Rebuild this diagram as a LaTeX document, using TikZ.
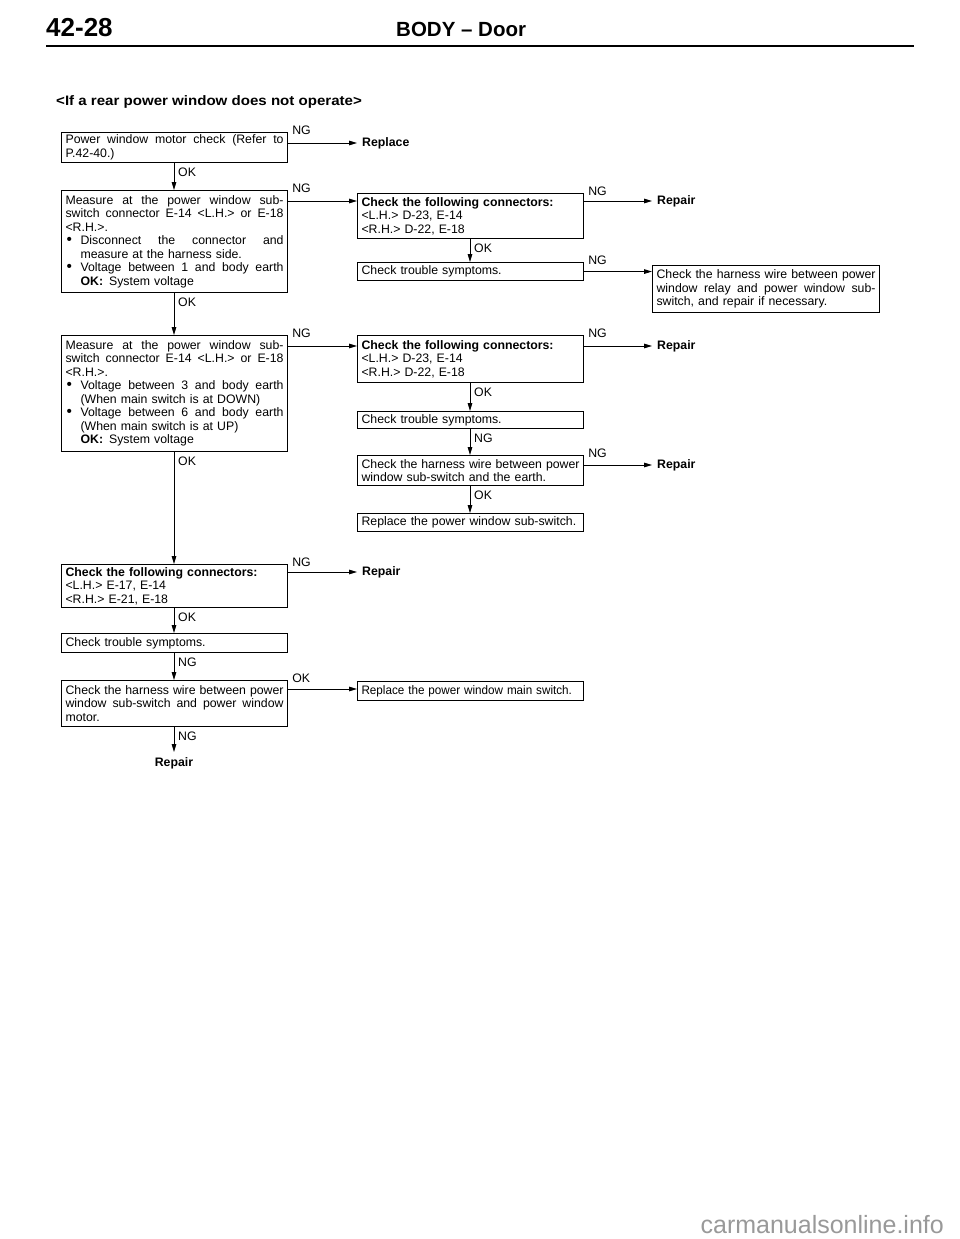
\documentclass[tikz,border=0pt]{standalone}
\usepackage{fontspec}
\usepackage{graphicx}
\setmainfont{Liberation Sans}
\usetikzlibrary{arrows.meta}
\newlength\Ind \setlength\Ind{15pt}
\newcommand\J[1]{\makebox[\hsize][s]{\spaceskip=0pt\xspaceskip=0pt #1}}
\newcommand\Bul{\makebox[\Ind][l]{\hspace{1pt}\scalebox{1.25}{\textbullet}}}
\newcommand\Bj[1]{\Bul\makebox[\dimexpr\hsize-\Ind\relax][s]{\spaceskip=0pt\xspaceskip=0pt #1}}
\newcommand\I[1]{\hspace*{\Ind}#1}
\newcommand\bodyfont{\fontsize{12.3}{13.5}\selectfont}
\tikzset{
  box/.style={draw, line width=1.1pt, anchor=north west, inner xsep=4pt, inner ysep=0pt,
    text width=218pt, align=left, font=\bodyfont,
    execute at begin node={\setlength\parindent{0pt}}},
  lbl/.style={font=\bodyfont, inner sep=0pt},
  outtxt/.style={font=\bodyfont\bfseries, inner sep=0pt},
  arr/.style={line width=0.9pt, -{Triangle[length=8pt,width=4.6pt]}},
}
\begin{document}
\begin{tikzpicture}[x=1pt,y=-1pt]
\useasboundingbox (0,0) rectangle (960,1239);
\fill[white] (0,0) rectangle (960,1239);
% header
\node[font=\fontsize{26}{30}\selectfont\bfseries, inner sep=0pt, anchor=base west] (pg) at (46,37) {42-28};
\node[font=\fontsize{20.5}{24}\selectfont\bfseries, inner sep=0pt, anchor=base west] (ttl) at (396,37) {BODY – Door};
\draw[line width=2.8pt] (46,46) -- (914,46);
\node[font=\fontsize{13.7}{16}\selectfont\bfseries, inner sep=0pt, anchor=base west] (sub) at (56,105) {\scalebox{1.1}[1]{<If a rear power window does not operate>}};
% column coordinates
\coordinate (lx) at (174,0);
\coordinate (mx) at (470,0);
% boxes
\node[box, minimum height=30pt] (b1) at (61,132) {\J{Power window motor check (Refer to}\\P.42-40.)};
\node[box, minimum height=102pt] (b2) at (61,190) {\J{Measure at the power window sub-}\\
\J{switch connector E-14 <L.H.> or E-18}\\
<R.H.>.\\
\Bj{Disconnect the connector and}\\
\I{measure at the harness side.}\\
\Bj{Voltage between 1 and body earth}\\
\I{\textbf{OK:}\hspace{6pt}System voltage}};
\node[box, minimum height=45pt] (b3) at (357,193) {\textbf{Check the following connectors:}\\<L.H.> D-23, E-14\\<R.H.> D-22, E-18};
\node[box, minimum height=18pt] (b4) at (357,262) {Check trouble symptoms.};
\node[box, minimum height=47pt, text width=219pt] (b5) at (652,265) {\J{Check the harness wire between power}\\\J{window relay and power window sub-}\\switch, and repair if necessary.};
\node[box, minimum height=116pt] (b6) at (61,335) {\J{Measure at the power window sub-}\\
\J{switch connector E-14 <L.H.> or E-18}\\
<R.H.>.\\
\Bj{Voltage between 3 and body earth}\\
\I{(When main switch is at DOWN)}\\
\Bj{Voltage between 6 and body earth}\\
\I{(When main switch is at UP)}\\
\I{\textbf{OK:}\hspace{6pt}System voltage}};
\node[box, minimum height=47pt] (b7) at (357,335) {\textbf{Check the following connectors:}\\<L.H.> D-23, E-14\\<R.H.> D-22, E-18};
\node[box, minimum height=17pt] (b8) at (357,411) {Check trouble symptoms.};
\node[box, minimum height=30pt] (b9) at (357,455) {\J{Check the harness wire between power}\\window sub-switch and the earth.};
\node[box, minimum height=18pt] (b10) at (357,513) {Replace the power window sub-switch.};
\node[box, minimum height=43pt] (b11) at (61,564) {\textbf{Check the following connectors:}\\<L.H.> E-17, E-14\\<R.H.> E-21, E-18};
\node[box, minimum height=19pt] (b12) at (61,633) {Check trouble symptoms.};
\node[box, minimum height=46pt] (b13) at (61,680) {\J{Check the harness wire between power}\\\J{window sub-switch and power window}\\motor.};
\node[box, minimum height=19pt] (b14) at (357,681) {\scalebox{0.95}[1]{Replace the power window main switch.}};
% outcome texts
\node[outtxt, anchor=west] (rep) at (362,143) {Replace};
\node[outtxt, anchor=west] (r1) at (657,201) {Repair};
\node[outtxt, anchor=west] (r2) at (657,346) {Repair};
\node[outtxt, anchor=west] (r3) at (657,465) {Repair};
\node[outtxt, anchor=west] (r4) at (362,572) {Repair};
\node[outtxt, anchor=north] (r5) at (174,757) {Repair};
% horizontal connectors
\coordinate (h1) at ([yshift=-11pt]b1.north east);
\coordinate (h2) at ([yshift=-11pt]b2.north east);
\coordinate (h3) at ([yshift=-8pt]b3.north east);
\coordinate (h4) at (b4.east);
\coordinate (h6) at ([yshift=-11pt]b6.north east);
\coordinate (h7) at ([yshift=-11pt]b7.north east);
\coordinate (h9) at ([yshift=-10pt]b9.north east);
\coordinate (h11) at ([yshift=-8pt]b11.north east);
\coordinate (h13) at ([yshift=-9pt]b13.north east);
\draw[arr] (h1) -- ([xshift=-5pt]rep.west);
\draw[arr] (h2) -- (h2 -| b3.west);
\draw[arr] (h3) -- ([xshift=-5pt]r1.west);
\draw[arr] (h4) -- (h4 -| b5.west);
\draw[arr] (h6) -- (h6 -| b7.west);
\draw[arr] (h7) -- ([xshift=-5pt]r2.west);
\draw[arr] (h9) -- ([xshift=-5pt]r3.west);
\draw[arr] (h11) -- ([xshift=-5pt]r4.west);
\draw[arr] (h13) -- (h13 -| b14.west);
% horizontal labels
\node[lbl, anchor=south west] (l1) at ([xshift=4pt,yshift=-2.5pt]b1.north east) {NG};
\node[lbl, anchor=south west] (l2) at ([xshift=4pt,yshift=-2.5pt]b2.north east) {NG};
\node[lbl, anchor=south west] (l3) at ([xshift=4pt,yshift=-2.5pt]b3.north east) {NG};
\node[lbl, anchor=south west] (l4) at ([xshift=4pt,yshift=-2.5pt]b4.north east) {NG};
\node[lbl, anchor=south west] (l6) at ([xshift=4pt,yshift=-2.5pt]b6.north east) {NG};
\node[lbl, anchor=south west] (l7) at ([xshift=4pt,yshift=-2.5pt]b7.north east) {NG};
\node[lbl, anchor=south west] (l9) at ([xshift=4pt,yshift=-2.5pt]b9.north east) {NG};
\node[lbl, anchor=south west] (l11) at ([xshift=4pt,yshift=-2.5pt]b11.north east) {NG};
\node[lbl, anchor=south west] (l13) at ([xshift=4pt,yshift=-2.5pt]b13.north east) {OK};
% vertical connectors
\coordinate (v1) at (b1.south -| lx);
\coordinate (v2) at (b2.south -| lx);
\coordinate (v3) at (b3.south -| mx);
\coordinate (v6) at (b6.south -| lx);
\coordinate (v7) at (b7.south -| mx);
\coordinate (v8) at (b8.south -| mx);
\coordinate (v9) at (b9.south -| mx);
\coordinate (v11) at (b11.south -| lx);
\coordinate (v12) at (b12.south -| lx);
\coordinate (v13) at (b13.south -| lx);
\draw[arr] (v1) -- (b2.north -| lx);
\draw[arr] (v2) -- (b6.north -| lx);
\draw[arr] (v3) -- (b4.north -| mx);
\draw[arr] (v6) -- (b11.north -| lx);
\draw[arr] (v7) -- (b8.north -| mx);
\draw[arr] (v8) -- (b9.north -| mx);
\draw[arr] (v9) -- (b10.north -| mx);
\draw[arr] (v11) -- (b12.north -| lx);
\draw[arr] (v12) -- (b13.north -| lx);
\draw[arr] (v13) -- ([yshift=5pt]r5.north);
% vertical labels
\node[lbl, anchor=north west] (m1) at ([xshift=4pt,yshift=-5pt]v1) {OK};
\node[lbl, anchor=north west] (m2) at ([xshift=4pt,yshift=-5pt]v2) {OK};
\node[lbl, anchor=north west] (m3) at ([xshift=4pt,yshift=-5pt]v3) {OK};
\node[lbl, anchor=north west] (m6) at ([xshift=4pt,yshift=-5pt]v6) {OK};
\node[lbl, anchor=north west] (m7) at ([xshift=4pt,yshift=-5pt]v7) {OK};
\node[lbl, anchor=north west] (m8) at ([xshift=4pt,yshift=-5pt]v8) {NG};
\node[lbl, anchor=north west] (m9) at ([xshift=4pt,yshift=-5pt]v9) {OK};
\node[lbl, anchor=north west] (m11) at ([xshift=4pt,yshift=-5pt]v11) {OK};
\node[lbl, anchor=north west] (m12) at ([xshift=4pt,yshift=-5pt]v12) {NG};
\node[lbl, anchor=north west] (m13) at ([xshift=4pt,yshift=-5pt]v13) {NG};
% watermark
\node[font=\fontsize{25}{28}\selectfont, text=black!40, inner sep=0pt, anchor=base east] (wm) at (944,1233) {carmanualsonline.info};
\end{tikzpicture}
\end{document}
